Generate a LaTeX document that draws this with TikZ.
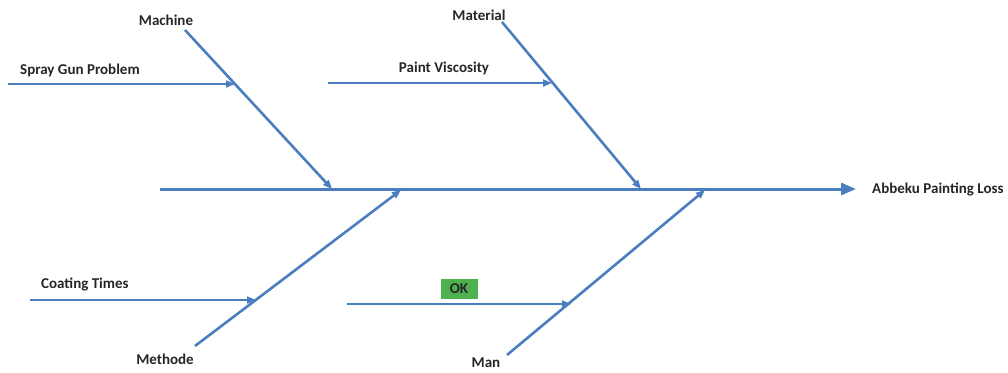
\documentclass[tikz,border=0pt]{standalone}
\usepackage{fontspec}
\setmainfont{Carlito}
\usetikzlibrary{arrows.meta}
\definecolor{bone}{HTML}{4A7EBF}
\definecolor{okgreen}{HTML}{4FB04F}
\begin{document}
\begin{tikzpicture}[x=1pt,y=-1pt,
  bonestyle/.style={draw=bone,line width=2.6pt,-{Triangle[length=9pt,width=7pt]}},
  spinestyle/.style={draw=bone,line width=3pt,-{Triangle[length=15pt,width=12pt]}},
  subarrow/.style={draw=bone,line width=1.9pt,-{Triangle[length=9pt,width=7pt]}},
  lbl/.style={font=\fontsize{15}{17}\selectfont\bfseries,text=black!85,inner sep=0pt}]
\useasboundingbox (0,0) rectangle (1008,372);
% spine
\coordinate (s0) at (160,189);
\coordinate (s1) at (856,189);
\node[lbl,anchor=west] (effect) at (872,189) {Abbeku Painting Loss};
\draw[spinestyle] (s0) -- (s1);
% Machine
\coordinate (m0) at (185,30);
\coordinate (m1) at (332,189);
\node[lbl] (machine) at (166,20) {Machine};
\draw[bonestyle] (m0) -- (m1);
\coordinate (sg0) at (8,84);
\coordinate (sg1) at (235,84);
\node[lbl,anchor=west] (spray) at (20,70) {Spray Gun Problem};
\draw[subarrow] (sg0) -- (sg1);
% Material
\coordinate (ma0) at (502,22);
\coordinate (ma1) at (641,189);
\node[lbl] (material) at (479,15) {Material};
\draw[bonestyle] (ma0) -- (ma1);
\coordinate (pv0) at (328,83);
\coordinate (pv1) at (552,83);
\node[lbl] (paint) at (444,68) {Paint Viscosity};
\draw[subarrow] (pv0) -- (pv1);
% Methode
\coordinate (me0) at (195,346);
\coordinate (me1) at (401,190);
\node[lbl] (methode) at (165,359) {Methode};
\draw[bonestyle] (me0) -- (me1);
\coordinate (ct0) at (30,300);
\coordinate (ct1) at (256,300);
\node[lbl,anchor=west] (coating) at (41,284) {Coating Times};
\draw[subarrow] (ct0) -- (ct1);
% Man
\coordinate (mn0) at (507,355);
\coordinate (mn1) at (705,190);
\node[lbl] (man) at (486,363) {Man};
\draw[bonestyle] (mn0) -- (mn1);
\coordinate (ok0) at (347,304);
\coordinate (ok1) at (571,304);
\node[lbl,fill=okgreen,minimum width=37pt,minimum height=20pt] (ok) at (459,289) {OK};
\draw[subarrow] (ok0) -- (ok1);
\end{tikzpicture}
\end{document}
